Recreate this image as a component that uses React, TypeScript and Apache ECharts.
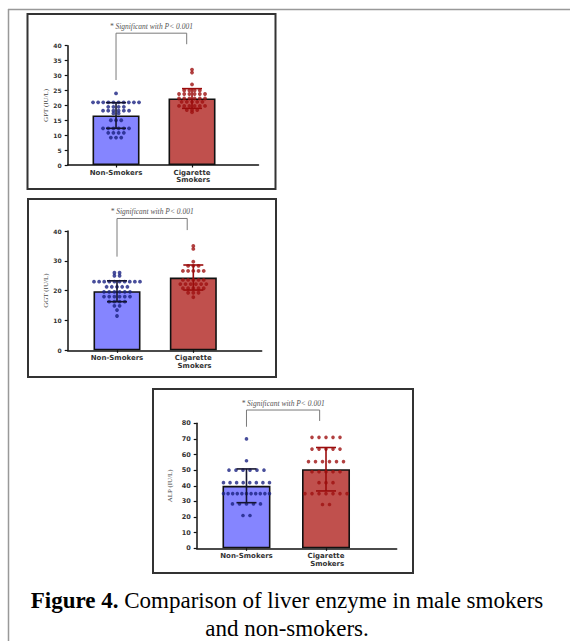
import React, { useEffect, useRef } from "react";
import * as echarts from "echarts";

// ---------- data ----------
const groups = ["Non-Smokers", "Cigarette\n Smokers"];

const gptNonSmokers = [
  24,
  21, 21, 21, 21, 21, 21, 21, 21, 21, 21,
  19.5, 19.5, 19.5, 19.5,
  18.2, 18.2, 18.2, 18.2, 18.2, 18.2,
  17.3, 17.3,
  15, 15, 15,
  12.3, 12.3, 12.3, 12.3, 12.3, 12.3,
  10.8, 10.8, 10.8, 10.8,
  9.2, 9.2, 9.2,
];
const gptSmokers = [
  32, 31, 27,
  25, 25, 25, 25,
  23.8, 23.8, 23.8, 23.8, 23.8, 23.8,
  22.3, 22.3, 22.3, 22.3, 22.3, 22.3,
  21.2, 21.2, 21.2, 21.2, 21.2,
  19.8, 19.8, 19.8, 19.8, 19.8, 19.8,
  18.4, 18.4, 18.4,
  17.7,
];
const gptMean = [16.6, 22.3];
const gptSd = [4.3, 3.3];

const ggtNonSmokers = [
  26, 26,
  25, 25,
  23, 23, 23, 23, 23, 23, 23, 23, 23, 23,
  21.3, 21.3, 21.3, 21.3, 21.3,
  19.6, 19.6, 19.6, 19.6, 19.6, 19.6,
  18, 18, 18, 18, 18, 18,
  16.3, 16.3, 16.3, 16.3,
  14.9, 14.9,
  13.5,
  11.5,
];
const ggtSmokers = [
  35, 34,
  29.7,
  28.3, 28.3, 28.3,
  26.6, 26.6, 26.6, 26.6, 26.6,
  23.6, 23.6, 23.6, 23.6, 23.6,
  22.2, 22.2, 22.2, 22.2, 22.2, 22.2,
  20.8, 20.8, 20.8, 20.8, 20.8,
  19.3, 19.3, 19.3,
  17.8,
];
const ggtMean = [19.8, 24.4];
const ggtSd = [3.5, 4.2];

const alpNonSmokers = [
  70,
  56,
  50, 50, 50, 50, 50, 50,
  42, 42, 42, 42, 42, 42, 42, 42,
  35, 35, 35, 35, 35, 35, 35, 35, 35, 35, 35,
  28.4, 28.4, 28.4, 28.4, 28.4,
  21, 21,
];
const alpSmokers = [
  71, 71, 71, 71, 71,
  63.5, 63.5, 63.5, 63.5, 63.5,
  55.5, 55.5, 55.5, 55.5, 55.5, 55.5,
  49, 49, 49, 49, 49,
  42, 42, 42,
  35, 35, 35, 35, 35, 35, 35,
  28, 28,
];
const alpMean = [40, 50.6];
const alpSd = [10.8, 13.9];

// significance bracket: [xLeft, xRight, yLeftEnd, yRightEnd, yTop]
const gptBracket = [0, 0.93, 28.5, 40.5, 44.2];
const ggtBracket = [0, 0.92, 31.4, 40.3, 44.2];
const alpBracket = [0, 0.92, 77.8, 81.5, 88.5];

const yNames = ["GPT (IU/L)", "GGT (IU/L)", "ALP (IU/L)"];
const yMax = [40, 40, 80];
const yInterval = [5, 10, 10];
const sigText = "* Significant with P< 0.001";
const captionBold = "Figure 4.";
const captionLine1 = " Comparison of liver enzyme in male smokers";
const captionLine2 = "and non-smokers.";

// ---------- styling / layout ----------
const barFill = ["#8585ff", "#c0504d"];
const dotColor = ["#1a2282", "#9e1010"];
const errColor = ["#151530", "#9a0c0c"];

const panels = [
  { left: 67.7, top: 45.7, width: 190.8, height: 119.3, xMin: -0.636, xMax: 1.875, barWidth: 47, spacing: 5.2, spread: 46, nameGap: 17, yFont: 6, cap: 10, dot: 3.8 },
  { left: 67.7, top: 231, width: 194, height: 119.3, xMin: -0.646, xMax: 1.896, barWidth: 47, spacing: 5.2, spread: 46, nameGap: 17, yFont: 6, cap: 10, dot: 3.8 },
  { left: 196.7, top: 423.3, width: 200, height: 125, xMin: -0.626, xMax: 1.889, barWidth: 48, spacing: 7, spread: 46, nameGap: 23, yFont: 6.5, cap: 10, dot: 3.6 },
];

const datasets = [
  { dots: [gptNonSmokers, gptSmokers], mean: gptMean, sd: gptSd, bracket: gptBracket },
  { dots: [ggtNonSmokers, ggtSmokers], mean: ggtMean, sd: ggtSd, bracket: ggtBracket },
  { dots: [alpNonSmokers, alpSmokers], mean: alpMean, sd: alpSd, bracket: alpBracket },
];

function swarm(values: number[], cat: number, spacing: number, spread: number) {
  const counts = new Map<number, number>();
  values.forEach((v) => counts.set(v, (counts.get(v) || 0) + 1));
  const seen = new Map<number, number>();
  return values.map((v) => {
    const n = counts.get(v) || 1;
    const i = seen.get(v) || 0;
    seen.set(v, i + 1);
    const s = n > 1 ? Math.min(spacing, spread / (n - 1)) : 0;
    const dx = (i - (n - 1) / 2) * s;
    return { value: [cat, v], symbolOffset: [dx, 0], itemStyle: { color: dotColor[cat] } };
  });
}

function buildOption() {
  const grid: any[] = [];
  const xAxis: any[] = [];
  const yAxis: any[] = [];
  const series: any[] = [];

  panels.forEach((p, k) => {
    const d = datasets[k];
    grid.push({ left: p.left, top: p.top, width: p.width, height: p.height, containLabel: false });
    xAxis.push({
      type: "value",
      gridIndex: k,
      min: p.xMin,
      max: p.xMax,
      axisLine: { show: true, onZero: false, lineStyle: { color: "#111", width: 1.5 } },
      axisTick: { show: true, customValues: [0, 1], length: 2.5, lineStyle: { color: "#111", width: 1.2 } },
      axisLabel: {
        show: true,
        customValues: [0, 1],
        formatter: (v: number) => groups[Math.round(v)] ?? "",
        fontFamily: "DejaVu Sans",
        fontWeight: "bold",
        fontSize: 7,
        lineHeight: 7.5,
        color: "#333",
        margin: 4,
      },
      splitLine: { show: false },
    });
    yAxis.push({
      type: "value",
      gridIndex: k,
      min: 0,
      max: yMax[k],
      interval: yInterval[k],
      name: yNames[k],
      nameLocation: "middle",
      nameGap: p.nameGap,
      nameTextStyle: { fontFamily: "Liberation Serif", fontSize: 7, color: "#444" },
      axisLine: { show: true, onZero: false, lineStyle: { color: "#111", width: 1.5 } },
      axisTick: { show: true, length: 3, lineStyle: { color: "#111", width: 1.2 } },
      axisLabel: { fontFamily: "DejaVu Sans", fontWeight: "bold", fontSize: p.yFont, color: "#333", margin: 6 },
      splitLine: { show: false },
    });

    series.push({
      type: "bar",
      xAxisIndex: k,
      yAxisIndex: k,
      barWidth: p.barWidth,
      z: 1,
      data: d.mean.map((m, i) => ({
        value: [i, m],
        itemStyle: { color: barFill[i], borderColor: "#111", borderWidth: 1.6 },
      })),
    });

    series.push({
      type: "scatter",
      xAxisIndex: k,
      yAxisIndex: k,
      symbol: "circle",
      symbolSize: p.dot,
      z: 3,
      data: [...swarm(d.dots[0], 0, p.spacing, p.spread), ...swarm(d.dots[1], 1, p.spacing, p.spread)],
    });

    series.push({
      type: "custom",
      xAxisIndex: k,
      yAxisIndex: k,
      z: 4,
      data: d.mean.map((m, i) => [i, m]),
      renderItem: (params: any, api: any) => {
        const i = params.dataIndex;
        const m = d.mean[i];
        const s = d.sd[i];
        const top = api.coord([i, m + s]);
        const bot = api.coord([i, m - s]);
        const col = errColor[i];
        const st = { stroke: col, lineWidth: 1.6 };
        return {
          type: "group",
          children: [
            { type: "line", shape: { x1: top[0], y1: top[1], x2: bot[0], y2: bot[1] }, style: st },
            { type: "line", shape: { x1: top[0] - p.cap, y1: top[1], x2: top[0] + p.cap, y2: top[1] }, style: st },
            { type: "line", shape: { x1: bot[0] - p.cap, y1: bot[1], x2: bot[0] + p.cap, y2: bot[1] }, style: st },
          ],
        };
      },
    });

    series.push({
      type: "custom",
      xAxisIndex: k,
      yAxisIndex: k,
      z: 5,
      clip: false,
      data: [[d.bracket[0], d.bracket[2]]],
      renderItem: (params: any, api: any) => {
        const [x0, x1, yl, yr, yt] = d.bracket;
        const a = api.coord([x0, yl]);
        const b = api.coord([x0, yt]);
        const c = api.coord([x1, yt]);
        const e = api.coord([x1, yr]);
        return {
          type: "group",
          children: [
            {
              type: "polyline",
              shape: { points: [a, b, c, e] },
              style: { stroke: "#7a7a7a", lineWidth: 1, fill: null },
            },
            {
              type: "text",
              x: (b[0] + c[0]) / 2,
              y: b[1] - 7,
              style: {
                text: sigText,
                fontFamily: "Liberation Serif",
                fontStyle: "italic",
                fontSize: 7.5,
                fill: "#555",
                align: "center",
                verticalAlign: "middle",
              },
            },
          ],
        };
      },
    });
  });

  const frameStyle = { stroke: "#333", lineWidth: 2, fill: "none" };
  const graphic: any[] = [
    { type: "line", shape: { x1: 8, y1: 9.5, x2: 570, y2: 9.5 }, style: { stroke: "#999", lineWidth: 1.5 } },
    { type: "line", shape: { x1: 8.5, y1: 9, x2: 8.5, y2: 641 }, style: { stroke: "#999", lineWidth: 1.5 } },
    { type: "rect", shape: { x: 27.5, y: 14, width: 248, height: 175 }, style: frameStyle },
    { type: "rect", shape: { x: 28, y: 199, width: 248, height: 178 }, style: frameStyle },
    { type: "rect", shape: { x: 153, y: 389, width: 260, height: 184 }, style: frameStyle },
    {
      type: "text",
      x: 287,
      y: 600,
      style: {
        text: "{b|" + captionBold + "}" + captionLine1,
        rich: { b: { fontFamily: "Liberation Serif", fontWeight: "bold", fontSize: 23, fill: "#000" } },
        fontFamily: "Liberation Serif",
        fontSize: 23,
        fill: "#000",
        align: "center",
        verticalAlign: "middle",
      },
    },
    {
      type: "text",
      x: 287,
      y: 628,
      style: {
        text: captionLine2,
        fontFamily: "Liberation Serif",
        fontSize: 23,
        fill: "#000",
        align: "center",
        verticalAlign: "middle",
      },
    },
  ];

  return {
    animation: false,
    backgroundColor: "#fff",
    grid,
    xAxis,
    yAxis,
    series,
    graphic,
  };
}

export default function App() {
  const ref = useRef<HTMLDivElement>(null);
  useEffect(() => {
    if (!ref.current) return;
    const chart = echarts.init(ref.current, undefined, { renderer: "svg" });
    chart.setOption(buildOption() as any);
    return () => chart.dispose();
  }, []);
  return (
    <div
      ref={ref}
      style={{ position: "fixed", left: 0, top: 0, width: 570, height: 641, background: "#fff" }}
    />
  );
}
